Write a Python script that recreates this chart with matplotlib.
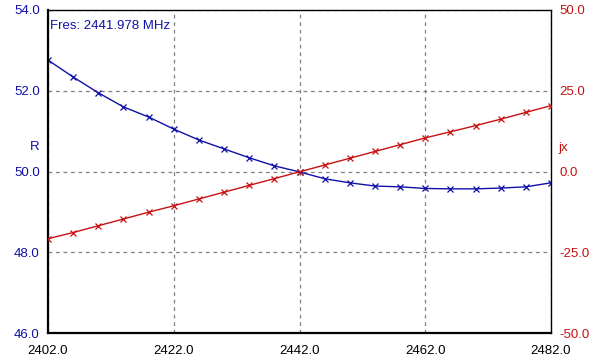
import matplotlib
matplotlib.use("Agg")
import matplotlib.pyplot as plt
import numpy as np

plt.rcParams['font.family'] = ['Liberation Sans', 'DejaVu Sans']

freq = [2402, 2406, 2410, 2414, 2418, 2422, 2426, 2430, 2434, 2438, 2442,
        2446, 2450, 2454, 2458, 2462, 2466, 2470, 2474, 2478, 2482]
r_vals = [52.76, 52.34, 51.95, 51.60, 51.35, 51.05, 50.78, 50.56, 50.34, 50.14, 49.99,
          49.82, 49.72, 49.64, 49.62, 49.58, 49.57, 49.57, 49.59, 49.62, 49.72]
jx_vals = [-20.8, -18.9, -16.8, -14.7, -12.6, -10.6, -8.5, -6.4, -4.3, -2.2, -0.1,
           2.0, 4.1, 6.2, 8.3, 10.4, 12.3, 14.2, 16.2, 18.3, 20.4]
x_ticks = [2402.0, 2422.0, 2442.0, 2462.0, 2482.0]
r_ticks = [46.0, 48.0, 50.0, 52.0, 54.0]
jx_ticks = [-50.0, -25.0, 0.0, 25.0, 50.0]
fres_text = "Fres: 2441.978 MHz"

blue = "#1010a8"
red = "#c81010"

fig = plt.figure(figsize=(5.94, 3.61), dpi=100)
ax = fig.add_axes([48/594, 28/361, 503/594, 323/361])
ax2 = ax.twinx()

ax.plot(freq, r_vals, color=blue, lw=1.0, marker='x', ms=4.5, mew=0.9)
ax2.plot(freq, jx_vals, color=red, lw=1.0, marker='x', ms=4.5, mew=0.9)

ax.set_xlim(2402, 2482)
ax.set_ylim(46, 54)
ax2.set_ylim(-50, 50)

ax.set_xticks(x_ticks)
ax.set_xticklabels([f"{v:.1f}" for v in x_ticks])
ax.set_yticks(r_ticks)
ax.set_yticklabels([f"{v:.1f}" for v in r_ticks])
ax2.set_yticks(jx_ticks)
ax2.set_yticklabels([f"{v:.1f}" for v in jx_ticks])

ax.tick_params(axis='x', length=0, pad=9, labelsize=9.5, labelcolor='black')
ax.tick_params(axis='y', length=0, pad=6, labelsize=9.5, labelcolor=blue)
ax2.tick_params(axis='y', length=0, pad=6, labelsize=9.5, labelcolor=red)

ax.grid(True, color='#808080', ls=(0, (3, 3)), lw=0.9)

for s in ['left', 'bottom']:
    ax.spines[s].set_linewidth(1.6)
for s in ['top', 'right']:
    ax.spines[s].set_linewidth(1.0)
for s in ax2.spines.values():
    s.set_visible(False)
ax.spines['right'].set_visible(True)

ax.set_ylabel("R", color=blue, fontsize=9.5, rotation=0, va='center', ha='center')
ax.yaxis.set_label_coords(-0.026, (333 - 147) / 323)
ax2.set_ylabel("jx", color=red, fontsize=9.5, rotation=0, va='center', ha='center')
ax2.yaxis.set_label_coords(1.024, (333 - 148) / 323)

ax.text(0.004, (333 - 26) / 323, fres_text, transform=ax.transAxes, color=blue,
        fontsize=9.5, ha='left', va='center')

ax2.set_zorder(ax.get_zorder() + 1)
ax.patch.set_visible(True)
ax2.patch.set_visible(False)

fig.savefig("out.png", dpi=100)
